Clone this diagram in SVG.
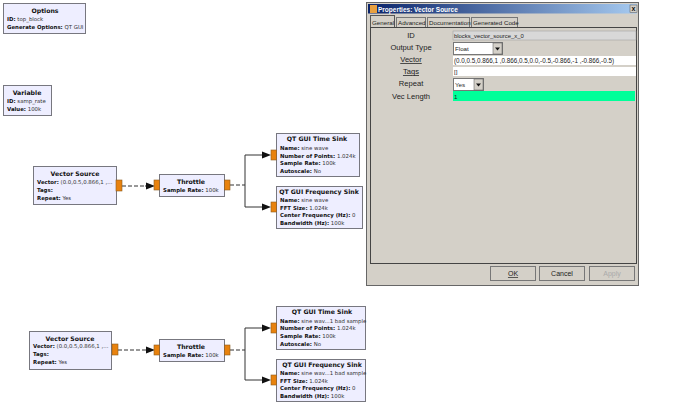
<svg xmlns="http://www.w3.org/2000/svg" width="690" height="407" viewBox="0 0 690 407">
<style>
text{font-family:"DejaVu Sans",sans-serif;font-size:5.4px;fill:#333}
.t{font-size:6.2px;font-weight:700;text-anchor:middle;fill:#111}
.b{font-weight:700;fill:#111}
.n{fill:#eeeeff;stroke:#77777f;stroke-width:1}
.p{fill:#e8820e;stroke:#8a5a20;stroke-width:.6}
.c{fill:none;stroke:#333;stroke-width:1}
.d{stroke-dasharray:4 2}
.l{font-family:"Liberation Sans",sans-serif;font-size:7.6px;text-anchor:middle;fill:#222}
.v{font-family:"Liberation Sans",sans-serif;font-size:6.200px;fill:#222}
.btn{fill:#d4d0c8;stroke:#777;stroke-width:1}
</style>
<defs><marker id="a" markerWidth="9" markerHeight="8" refX="0" refY="4" orient="auto" markerUnits="userSpaceOnUse"><path d="M0 0.5L9 4L0 7.5z" fill="#111"/></marker>
<linearGradient id="tb"><stop offset="0" stop-color="#0a246a"/><stop offset="1" stop-color="#a6caf0"/></linearGradient></defs>
<rect width="690" height="407" fill="#fff"/>
<g id="connectors">
<path class="c d" d="M122 186H145"/><path class="c" d="M145 186H146" marker-end="url(#a)"/>
<path class="c d" d="M230 185H245"/><path class="c" d="M261 155H245V207H261"/>
<path class="c" d="M261 155H262" marker-end="url(#a)"/><path class="c" d="M261 207H262" marker-end="url(#a)"/>
<path class="c d" d="M118 350H145"/><path class="c" d="M145 350H146" marker-end="url(#a)"/>
<path class="c d" d="M230 350H245"/><path class="c" d="M261 328H245V380H261"/>
<path class="c" d="M261 328H262" marker-end="url(#a)"/><path class="c" d="M261 380H262" marker-end="url(#a)"/>
</g>
<g id="options"><rect class="n" x="3.500" y="3.500" width="82" height="30"/><text class="t" x="45" y="13">Options</text><text x="7" y="21"><tspan class="b">ID:</tspan> top_block</text><text x="7" y="29"><tspan class="b">Generate Options:</tspan> QT GUI</text></g>
<g id="variable"><rect class="n" x="3.500" y="85.500" width="48" height="30"/><text class="t" x="27" y="95">Variable</text><text x="7" y="103"><tspan class="b">ID:</tspan> samp_rate</text><text x="7" y="111"><tspan class="b">Value:</tspan> 100k</text></g>
<g id="vector-source-1"><rect class="n" x="33.500" y="166.500" width="83" height="38"/><rect class="p" x="116" y="180" width="6" height="11"/><text class="t" x="75" y="176">Vector Source</text><text x="37" y="184"><tspan class="b">Vector:</tspan> (0.0,0.5,0.866,1 ,...</text><text x="37" y="192"><tspan class="b">Tags:</tspan></text><text x="37" y="199.500"><tspan class="b">Repeat:</tspan> Yes</text></g>
<g id="throttle-1"><rect class="n" x="159.500" y="174.500" width="65" height="22"/><rect class="p" x="154" y="180" width="5.500" height="10"/><rect class="p" x="224.500" y="180" width="5.500" height="10"/><text class="t" x="191" y="183.500">Throttle</text><text x="163" y="191.500"><tspan class="b">Sample Rate:</tspan> 100k</text></g>
<g id="time-sink-1"><rect class="n" x="276.500" y="133.500" width="83" height="43"/><rect class="p" x="271" y="150" width="5.500" height="10"/><text class="t" x="317" y="141">QT GUI Time Sink</text><text x="280" y="150"><tspan class="b">Name:</tspan> sine wave</text><text x="280" y="157.500"><tspan class="b">Number of Points:</tspan> 1.024k</text><text x="280" y="165"><tspan class="b">Sample Rate:</tspan> 100k</text><text x="280" y="172.500"><tspan class="b">Autoscale:</tspan> No</text></g>
<g id="freq-sink-1"><rect class="n" x="276.500" y="186.500" width="86" height="42"/><rect class="p" x="271" y="202" width="5.500" height="10"/><text class="t" x="319" y="194">QT GUI Frequency Sink</text><text x="280" y="202"><tspan class="b">Name:</tspan> sine wave</text><text x="280" y="209.500"><tspan class="b">FFT Size:</tspan> 1.024k</text><text x="280" y="217"><tspan class="b">Center Frequency (Hz):</tspan> 0</text><text x="280" y="224.500"><tspan class="b">Bandwidth (Hz):</tspan> 100k</text></g>
<g id="vector-source-2"><rect class="n" x="29.500" y="331.500" width="82" height="38"/><rect class="p" x="112" y="344" width="6" height="11"/><text class="t" x="70" y="340.500">Vector Source</text><text x="33" y="348"><tspan class="b">Vector:</tspan> (0.0,0.5,0.866,1 ,...</text><text x="33" y="356"><tspan class="b">Tags:</tspan></text><text x="33" y="364"><tspan class="b">Repeat:</tspan> Yes</text></g>
<g id="throttle-2"><rect class="n" x="159.500" y="339.500" width="65" height="22"/><rect class="p" x="154" y="345" width="5.500" height="10"/><rect class="p" x="224.500" y="345" width="5.500" height="10"/><text class="t" x="191" y="348.500">Throttle</text><text x="163" y="356.500"><tspan class="b">Sample Rate:</tspan> 100k</text></g>
<g id="time-sink-2"><rect class="n" x="276.500" y="306.500" width="89" height="43"/><rect class="p" x="271" y="323" width="5.500" height="10"/><text class="t" x="322" y="314">QT GUI Time Sink</text><text x="280" y="322.500"><tspan class="b">Name:</tspan> sine wav...1 bad sample</text><text x="280" y="330"><tspan class="b">Number of Points:</tspan> 1.024k</text><text x="280" y="338"><tspan class="b">Sample Rate:</tspan> 100k</text><text x="280" y="345.500"><tspan class="b">Autoscale:</tspan> No</text></g>
<g id="freq-sink-2"><rect class="n" x="276.500" y="359.500" width="89" height="42"/><rect class="p" x="271" y="375" width="5.500" height="10"/><text class="t" x="322" y="366.500">QT GUI Frequency Sink</text><text x="280" y="375"><tspan class="b">Name:</tspan> sine wav...1 bad sample</text><text x="280" y="382.500"><tspan class="b">FFT Size:</tspan> 1.024k</text><text x="280" y="390"><tspan class="b">Center Frequency (Hz):</tspan> 0</text><text x="280" y="397.500"><tspan class="b">Bandwidth (Hz):</tspan> 100k</text></g>
<g id="properties-dialog">
<rect x="366.500" y="2.500" width="272" height="283" fill="#d4d0c8" stroke="#666"/>
<rect x="368" y="4" width="269" height="9.500" fill="url(#tb)"/>
<rect x="370" y="5" width="7" height="8" fill="#e8a040"/>
<text x="378" y="11.500" style="font-family:'Liberation Sans',sans-serif;font-size:6.500px;font-weight:700;fill:#fff">Properties: Vector Source</text>
<rect x="630" y="5" width="7" height="7.500" fill="#d4d0c8" stroke="#555" stroke-width=".5"/><text x="631.500" y="11.300" style="font-family:'Liberation Sans',sans-serif;font-size:7px;font-weight:700;fill:#111">x</text>
<rect x="370.500" y="15.500" width="24" height="12" fill="#d4d0c8" stroke="#555"/><rect x="396.500" y="17.500" width="29" height="10" fill="#d4d0c8" stroke="#777"/><rect x="427.500" y="17.500" width="42" height="10" fill="#d4d0c8" stroke="#777"/><rect x="471.500" y="17.500" width="46" height="10" fill="#d4d0c8" stroke="#777"/>
<rect x="370.500" y="27.500" width="266" height="236" fill="#d4d0c8" stroke="#444"/>
<text class="v" x="372" y="25">General</text><text class="v" x="398" y="25">Advanced</text><text class="v" x="429" y="25">Documentation</text><text class="v" x="473" y="25">Generated Code</text>
<text class="l" x="411" y="37.500">ID</text><text class="l" x="411" y="50">Output Type</text><text class="l" x="411" y="62" text-decoration="underline">Vector</text><text class="l" x="411" y="74" text-decoration="underline">Tags</text><text class="l" x="411" y="86">Repeat</text><text class="l" x="411" y="99">Vec Length</text>
<rect x="453" y="31" width="183" height="9" fill="#d8d8d8" stroke="#999" stroke-width=".5"/><text class="v" x="454" y="38" style="font-size:5.900px">blocks_vector_source_x_0</text>
<rect x="453.500" y="42.500" width="49" height="12" fill="#fff" stroke="#777"/><rect x="493" y="43" width="9" height="11" fill="#d4d0c8" stroke="#555" stroke-width=".5"/><path d="M495 47.500h5l-2.500 3z" fill="#111"/><text class="v" x="455" y="51">Float</text>
<rect x="453" y="56" width="183" height="9" fill="#fff"/><text class="v" x="454" y="63" style="font-size:6.300px">(0.0,0.5,0.866,1 ,0.866,0.5,0.0,-0.5,-0.866,-1 ,-0.866,-0.5)</text>
<rect x="453" y="67" width="183" height="9" fill="#fff"/><text class="v" x="454" y="74">[]</text>
<rect x="453.500" y="78.500" width="30" height="12" fill="#fff" stroke="#777"/><rect x="474" y="79" width="9" height="11" fill="#d4d0c8" stroke="#555" stroke-width=".5"/><path d="M476 83.500h5l-2.500 3z" fill="#111"/><text class="v" x="455" y="87">Yes</text>
<rect x="453" y="91" width="182" height="10" fill="#00ff99"/><text class="v" x="454" y="99">1</text>
<rect class="btn" x="490.500" y="266.500" width="45" height="14"/><rect class="btn" x="539.500" y="266.500" width="45" height="14"/><rect class="btn" x="589.500" y="266.500" width="45" height="14"/>
<text class="l" x="513" y="276" style="font-size:7px;text-decoration:underline">OK</text><text class="l" x="562" y="276" style="font-size:7px">Cancel</text><text class="l" x="612" y="276" style="font-size:7px;fill:#aaa">Apply</text>
</g>
</svg>
